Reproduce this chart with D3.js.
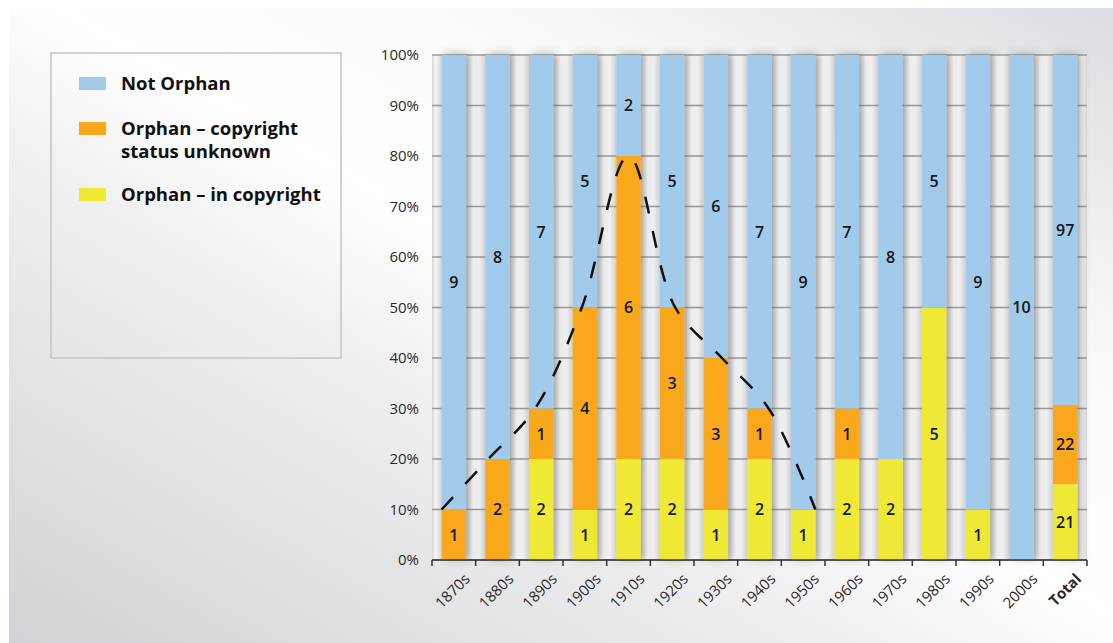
<!DOCTYPE html>
<html>
<head>
<meta charset="utf-8">
<script src="https://cdn.jsdelivr.net/npm/d3@7"></script>
<style>
    body { margin: 0; background: #ffffff; }
    svg { display: block; }
</style>
</head>
<body>
<svg id="grafica"></svg>
<script>
/**
 * Datos de la grafica
 */
const decadas = ['1870s', '1880s', '1890s', '1900s', '1910s', '1920s', '1930s', '1940s',
    '1950s', '1960s', '1970s', '1980s', '1990s', '2000s', 'Total'];
const noHuerfano = [9, 8, 7, 5, 2, 5, 6, 7, 9, 7, 8, 5, 9, 10, 97];
const huerfanoDesconocido = [1, 2, 1, 4, 6, 3, 3, 1, 0, 1, 0, 0, 0, 0, 22];
const huerfanoConCopyright = [0, 0, 2, 1, 2, 2, 1, 2, 1, 2, 2, 5, 1, 0, 21];
const ticksY = [0, 0.1, 0.2, 0.3, 0.4, 0.5, 0.6, 0.7, 0.8, 0.9, 1];
const decadasTendencia = ['1870s', '1880s', '1890s', '1900s', '1910s', '1920s', '1930s', '1940s', '1950s'];
const series = [
    { clave: 'conCopyright', nombre: 'Orphan \u2013 in copyright', color: '#efe835', valores: huerfanoConCopyright },
    { clave: 'desconocido', nombre: 'Orphan \u2013 copyright|status unknown', color: '#f9a81d', valores: huerfanoDesconocido },
    { clave: 'noHuerfano', nombre: 'Not Orphan', color: '#a1caeb', valores: noHuerfano }
];

/**
 * Funcion para graficar las barras apiladas al 100%
 */
function graficarBarras(svgId, anchoGrafica, altoGrafica) {

    const svg = d3.select('#' + svgId)
        .attr('width', anchoGrafica)
        .attr('height', altoGrafica);

    const fuente = '"Open Sans", "DejaVu Sans", sans-serif';
    const defs = svg.append('defs');

    /**
     * Degradados y sombras
     */
    const fondo = defs.append('linearGradient').attr('id', 'fondo')
        .attr('x1', 0).attr('y1', 1).attr('x2', 1).attr('y2', 0);
    [[0, '#d1d2d5'], [0.4, '#f1f1f2'], [0.52, '#ffffff'], [0.72, '#f8f9f9'], [1, '#dadde0']]
        .forEach(s => fondo.append('stop').attr('offset', s[0]).attr('stop-color', s[1]));

    const hueco = defs.append('linearGradient').attr('id', 'hueco')
        .attr('x1', 0).attr('y1', 0).attr('x2', 1).attr('y2', 0);
    [[0, '#d6d6d8'], [0.35, '#f6f6f6'], [0.7, '#efeff0'], [1, '#d9dadc']]
        .forEach(s => hueco.append('stop').attr('offset', s[0]).attr('stop-color', s[1]));

    defs.append('filter').attr('id', 'sombra')
        .attr('x', '-20%').attr('y', '-5%').attr('width', '160%').attr('height', '110%')
        .append('feDropShadow')
        .attr('dx', 3).attr('dy', -1).attr('stdDeviation', 4)
        .attr('flood-color', '#444').attr('flood-opacity', 0.4);

    svg.append('rect')
        .attr('x', 9).attr('y', 8)
        .attr('width', anchoGrafica - 9).attr('height', altoGrafica - 8)
        .attr('fill', 'url(#fondo)');

    /**
     * Escalas
     */
    const x = d3.scaleBand()
        .domain(decadas)
        .range([432, 1087])
        .paddingInner(0.44)
        .paddingOuter(0.22);

    const y = d3.scaleLinear()
        .domain([0, 1])
        .range([560, 55]);

    const paso = x.step();
    const ancho = x.bandwidth();
    const espacio = paso - ancho;

    /**
     * Apilado de los datos
     */
    const tabla = decadas.map((d, i) => {
        const fila = { decada: d, total: 0 };
        series.forEach(s => { fila[s.clave] = s.valores[i]; fila.total += s.valores[i]; });
        return fila;
    });
    const pila = d3.stack()
        .keys(series.map(s => s.clave))
        .value((d, k) => d[k] / d.total)(tabla);

    /**
     * Fondo del area de la grafica (huecos entre barras)
     */
    const huecos = decadas.map(d => ({ x0: x(d) - espacio, x1: x(d) }));
    huecos.push({ x0: x(decadas[decadas.length - 1]) + ancho, x1: x.range()[1] });
    huecos[0].x0 = x.range()[0];

    svg.append('g')
        .selectAll('rect')
        .data(huecos)
        .join('rect')
        .attr('x', d => d.x0)
        .attr('y', y(1))
        .attr('width', d => d.x1 - d.x0)
        .attr('height', y(0) - y(1))
        .attr('fill', 'url(#hueco)');

    /**
     * Lineas de guia y eje Y
     */
    svg.append('g')
        .selectAll('line')
        .data(ticksY)
        .join('line')
        .attr('x1', x.range()[0])
        .attr('x2', x.range()[1])
        .attr('y1', d => y(d))
        .attr('y2', d => y(d))
        .attr('stroke', '#9a9a9a')
        .attr('stroke-width', 1.5);

    svg.append('g')
        .selectAll('text')
        .data(ticksY)
        .join('text')
        .attr('x', 419)
        .attr('y', d => y(d))
        .attr('dy', '0.36em')
        .attr('text-anchor', 'end')
        .attr('font-family', fuente)
        .attr('font-size', 15)
        .attr('fill', '#2a2a2a')
        .text(d3.format('.0%'));

    /**
     * Barras apiladas
     */
    const grupos = svg.append('g')
        .attr('filter', 'url(#sombra)')
        .selectAll('g')
        .data(pila)
        .join('g')
        .attr('fill', (d, i) => series[i].color);

    grupos.selectAll('rect')
        .data(d => d)
        .join('rect')
        .attr('x', d => x(d.data.decada))
        .attr('y', d => y(d[1]))
        .attr('width', ancho)
        .attr('height', d => y(d[0]) - y(d[1]));

    /**
     * Etiquetas de valores
     */
    const etiquetas = [];
    pila.forEach((capa, i) => {
        capa.forEach(d => {
            const valor = d.data[series[i].clave];
            if (valor > 0) etiquetas.push({ decada: d.data.decada, valor: valor, centro: (d[0] + d[1]) / 2 });
        });
    });

    svg.append('g')
        .selectAll('text')
        .data(etiquetas)
        .join('text')
        .attr('x', d => x(d.decada) + ancho / 2)
        .attr('y', d => y(d.centro))
        .attr('dy', '0.36em')
        .attr('text-anchor', 'middle')
        .attr('font-family', fuente)
        .attr('font-weight', 600)
        .attr('font-size', 16)
        .attr('fill', '#151515')
        .text(d => d.valor);

    /**
     * Linea de tendencia (porcentaje de huerfanos)
     */
    const xTendencia = d3.scaleLinear()
        .domain([0, decadasTendencia.length - 1])
        .range([x(decadasTendencia[0]), x(decadasTendencia[decadasTendencia.length - 1]) + ancho]);

    const tendencia = decadasTendencia.map((d, i) => {
        const fila = tabla[decadas.indexOf(d)];
        return [xTendencia(i), y((fila.desconocido + fila.conCopyright) / fila.total)];
    });

    svg.append('path')
        .datum(tendencia)
        .attr('d', d3.line().curve(d3.curveCatmullRom.alpha(0.5)))
        .attr('fill', 'none')
        .attr('stroke', '#111')
        .attr('stroke-width', 2.5)
        .attr('stroke-dasharray', '17,18');

    /**
     * Eje X
     */
    const ejeX = svg.append('g')
        .attr('transform', `translate(0,${y(0)})`);

    ejeX.append('line')
        .attr('x1', x.range()[0])
        .attr('x2', x.range()[1])
        .attr('stroke', '#333')
        .attr('stroke-width', 1.5);

    ejeX.selectAll('line.tick')
        .data(huecos)
        .join('line')
        .attr('class', 'tick')
        .attr('x1', (d, i) => i === 0 ? d.x0 : (i === huecos.length - 1 ? d.x1 : (d.x0 + d.x1) / 2))
        .attr('x2', (d, i) => i === 0 ? d.x0 : (i === huecos.length - 1 ? d.x1 : (d.x0 + d.x1) / 2))
        .attr('y1', 0)
        .attr('y2', 6)
        .attr('stroke', '#333')
        .attr('stroke-width', 1.5);

    ejeX.selectAll('text')
        .data(decadas)
        .join('text')
        .attr('transform', d => `translate(${x(d) + ancho / 2 + 17},20) rotate(-45)`)
        .attr('text-anchor', 'end')
        .attr('font-family', fuente)
        .attr('font-size', 15)
        .attr('font-weight', d => d === 'Total' ? 700 : 400)
        .attr('fill', '#2a2a2a')
        .text(d => d);

    /**
     * Leyenda
     */
    svg.append('rect')
        .attr('x', 51).attr('y', 53)
        .attr('width', 290).attr('height', 305)
        .attr('fill', 'none')
        .attr('stroke', '#c4c4c4')
        .attr('stroke-width', 1.5);

    const leyenda = svg.append('g')
        .selectAll('g')
        .data(series.slice().reverse())
        .join('g')
        .attr('transform', (d, i) => `translate(79,${[77, 122, 188][i]})`);

    leyenda.append('rect')
        .attr('width', 27)
        .attr('height', 13)
        .attr('fill', d => d.color);

    leyenda.selectAll('text')
        .data(d => d.nombre.split('|'))
        .join('text')
        .attr('x', 42)
        .attr('y', (d, i) => 13 + i * 23)
        .attr('font-family', fuente)
        .attr('font-weight', 700)
        .attr('font-size', 18.5)
        .attr('fill', '#111')
        .text(d => d);
}

graficarBarras('grafica', 1113, 643);
</script>
</body>
</html>
